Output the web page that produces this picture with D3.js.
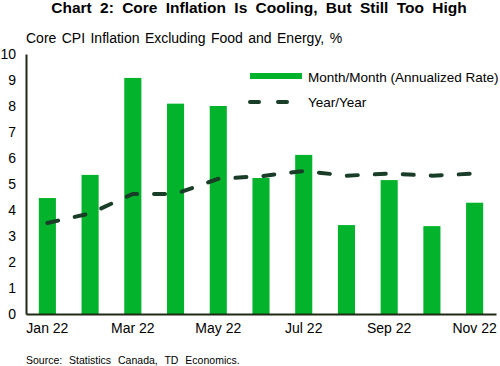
<!DOCTYPE html>
<html>
<head>
<meta charset="utf-8">
<script src="https://cdn.jsdelivr.net/npm/d3@7"></script>
<style>
  body { margin: 0; background: #fff; }
  svg text { font-family: "Liberation Sans", Arial, sans-serif; fill: #000; }
</style>
</head>
<body>
<svg id="chart" width="500" height="366"></svg>
<script>
// data
const months = ["Jan 22", "Feb 22", "Mar 22", "Apr 22", "May 22", "Jun 22",
                "Jul 22", "Aug 22", "Sep 22", "Oct 22", "Nov 22"];
const monthly = [4.46, 5.35, 9.08, 8.09, 8.0, 5.23, 6.12, 3.42, 5.15, 3.38, 4.28];
const yearly = [3.5, 3.87, 4.62, 4.62, 5.2, 5.3, 5.5, 5.32, 5.4, 5.32, 5.4];
const yTicks = [0, 1, 2, 3, 4, 5, 6, 7, 8, 9, 10];
const xLabels = ["Jan 22", "Mar 22", "May 22", "Jul 22", "Sep 22", "Nov 22"];

const green = "#02b32b",
    dark = "#1a3d28";

const svg = d3.select("#chart");

const x = d3.scaleBand()
    .domain(months)
    .range([26, 496])
    .paddingInner(0.6)
    .paddingOuter(0.3);

const y = d3.scaleLinear()
    .domain([0, 10])
    .range([314, 54]);

// title + subtitle
svg.append("text")
    .attr("x", 259)
    .attr("y", 13)
    .attr("text-anchor", "middle")
    .style("font-size", "15.5px")
    .style("font-weight", "bold")
    .style("word-spacing", "4px")
    .text("Chart 2: Core Inflation Is Cooling, But Still Too High");

svg.append("text")
    .attr("x", 26)
    .attr("y", 42.5)
    .style("font-size", "14px")
    .style("word-spacing", "1.5px")
    .text("Core CPI Inflation Excluding Food and Energy, %");

// bars
svg.append("g")
    .selectAll("rect")
    .data(monthly)
    .enter()
    .append("rect")
    .attr("x", (d, i) => x(months[i]))
    .attr("y", d => y(d))
    .attr("width", x.bandwidth())
    .attr("height", d => y(0) - y(d))
    .attr("fill", green);

// year/year dashed line
const line = d3.line()
    .x((d, i) => x(months[i]) + x.bandwidth() / 2)
    .y(d => y(d));

svg.append("path")
    .datum(yearly)
    .attr("d", line)
    .attr("fill", "none")
    .attr("stroke", dark)
    .attr("stroke-width", 4)
    .attr("stroke-linecap", "round")
    .attr("stroke-dasharray", "11,17");

// y axis
const yAxis = svg.append("g")
    .attr("transform", "translate(26,0)")
    .call(d3.axisLeft(y).tickValues(yTicks).tickSize(0).tickPadding(10));
yAxis.select(".domain").attr("stroke", "#1f2a14").attr("stroke-width", 2);
yAxis.selectAll("text").style("font-size", "14px");

// x axis
const xAxis = svg.append("g")
    .attr("transform", "translate(0,314)")
    .call(d3.axisBottom(x).tickValues(xLabels).tickSize(0).tickPadding(9));
xAxis.select(".domain").attr("stroke", "#1f2a14").attr("stroke-width", 2);
xAxis.selectAll("text").style("font-size", "14px");

// legend
const legend = svg.append("g");
legend.append("line")
    .attr("x1", 250).attr("x2", 302)
    .attr("y1", 76).attr("y2", 76)
    .attr("stroke", green)
    .attr("stroke-width", 6);
legend.append("text")
    .attr("x", 308).attr("y", 82)
    .style("font-size", "13.5px")
    .text("Month/Month (Annualized Rate)");
legend.append("line")
    .attr("x1", 250).attr("x2", 292)
    .attr("y1", 102).attr("y2", 102)
    .attr("stroke", dark)
    .attr("stroke-width", 4)
    .attr("stroke-linecap", "round")
    .attr("stroke-dasharray", "9,19");
legend.append("text")
    .attr("x", 308).attr("y", 107)
    .style("font-size", "13.5px")
    .text("Year/Year");

// source
svg.append("text")
    .attr("x", 26)
    .attr("y", 364)
    .style("font-size", "10.5px")
    .style("word-spacing", "4px")
    .text("Source: Statistics Canada, TD Economics.");
</script>
</body>
</html>
